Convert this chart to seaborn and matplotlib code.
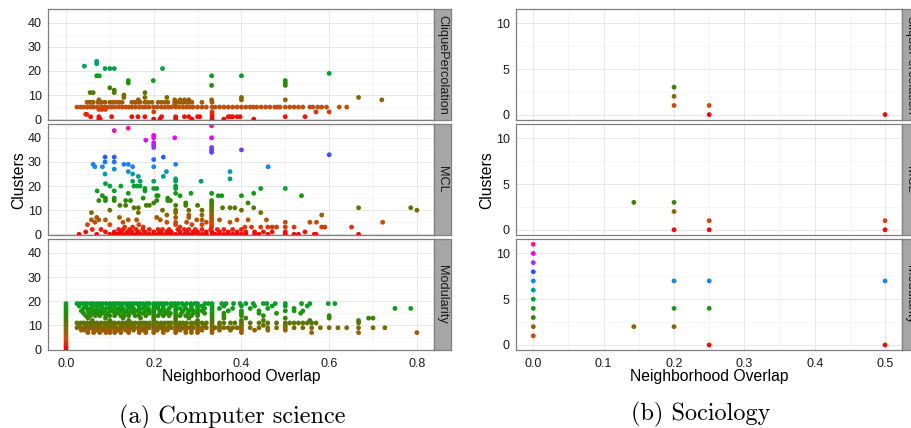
import pandas as pd
import matplotlib
matplotlib.use("Agg")
import matplotlib.pyplot as plt
from matplotlib.colors import LinearSegmentedColormap
from matplotlib.ticker import FixedLocator
import seaborn as sns

FACETS = ["CliquePercolation", "MCL", "Modularity"]

# (a) Computer science -- each entry: (clusters, [neighborhood overlap values])
CS_CLIQUE = [
    (24, [0.07]), (23, [0.07]), (22, [0.042]),
    (21, [0.089, 0.10, 0.11, 0.22]), (19, [0.60]),
    (18, [0.07, 0.076, 0.332, 0.40]), (16, [0.142, 0.199, 0.50]),
    (15, [0.142, 0.50]), (14, [0.332, 0.50]), (13, [0.10]), (12, [0.11]),
    (11, [0.055, 0.062, 0.11, 0.18]), (10, [0.132]),
    (9, [0.132, 0.18, 0.23, 0.40, 0.667]),
    (8, [0.075, 0.165, 0.248, 0.26, 0.27, 0.28, 0.332, 0.40, 0.50, 0.72]),
    (7, [0.048, 0.053, 0.058, 0.062, 0.073, 0.078, 0.082, 0.089, 0.10, 0.107, 0.115,
         0.122, 0.128, 0.15, 0.157, 0.163, 0.169, 0.18, 0.187, 0.196, 0.21, 0.218,
         0.226, 0.232, 0.248, 0.255, 0.262, 0.268, 0.275, 0.28, 0.287, 0.31, 0.333]),
    (6, [0.248]),
    (5, [0.025, 0.033, 0.04, 0.048, 0.056, 0.063, 0.071, 0.08, 0.088, 0.095, 0.103,
         0.111, 0.12, 0.128, 0.136, 0.143, 0.15, 0.158, 0.167, 0.175, 0.182, 0.19,
         0.2, 0.208, 0.217, 0.225, 0.233, 0.24, 0.25, 0.258, 0.267, 0.275, 0.283,
         0.29, 0.3, 0.31, 0.32, 0.333, 0.34, 0.35, 0.36, 0.37, 0.38, 0.39, 0.4,
         0.41, 0.42, 0.427, 0.435, 0.445, 0.455, 0.465, 0.476, 0.482, 0.488, 0.5,
         0.51, 0.52, 0.53, 0.54, 0.556, 0.563, 0.574, 0.583, 0.594, 0.623, 0.64]),
    (4, [0.075, 0.082, 0.09]),
    (3, [0.20, 0.333, 0.57, 0.60]),
    (2, [0.045, 0.047, 0.333]),
    (1, [0.056, 0.075, 0.104, 0.15, 0.164, 0.18, 0.218, 0.25, 0.27, 0.28, 0.30,
         0.305, 0.333, 0.37, 0.375, 0.38, 0.39, 0.397, 0.50, 0.545]),
    (0, [0.075, 0.078, 0.20, 0.214, 0.25, 0.287, 0.333, 0.36, 0.428]),
]

CS_MCL = [
    (45, [0.332]), (44, [0.142]), (43, [0.110]), (41, [0.20]),
    (40, [0.20, 0.248, 0.332]), (39, [0.182]), (38, [0.20]), (37, [0.20]),
    (36, [0.20, 0.332]), (35, [0.332, 0.40]), (34, [0.332]), (33, [0.60]),
    (32, [0.089, 0.11, 0.222]), (31, [0.20]), (30, [0.089, 0.11]),
    (29, [0.062, 0.132, 0.142, 0.25]), (28, [0.066, 0.083, 0.152, 0.20, 0.461]),
    (27, [0.11]), (26, [0.142, 0.229, 0.374]), (25, [0.089, 0.152]),
    (24, [0.165, 0.222]), (23, [0.25, 0.374]),
    (22, [0.152, 0.169, 0.20, 0.25, 0.308]), (21, [0.09]),
    (20, [0.10, 0.125, 0.155, 0.162, 0.169, 0.25]),
    (19, [0.18, 0.20, 0.207, 0.25, 0.444, 0.50]),
    (18, [0.071, 0.11, 0.18]),
    (17, [0.142, 0.25, 0.285, 0.332, 0.428]),
    (16, [0.083, 0.207, 0.21, 0.26, 0.347, 0.355, 0.40, 0.537]),
    (15, [0.09, 0.11, 0.176, 0.232]),
    (14, [0.075, 0.09, 0.11, 0.136, 0.147, 0.207, 0.232, 0.238, 0.332]),
    (13, [0.20, 0.273, 0.332, 0.415]),
    (12, [0.123, 0.136, 0.183, 0.19, 0.25, 0.273, 0.30, 0.332]),
    (11, [0.155, 0.165, 0.332, 0.357, 0.374, 0.385, 0.428, 0.667, 0.786]),
    (10, [0.10, 0.22, 0.25, 0.28, 0.31, 0.332, 0.40, 0.80]),
    (9, [0.058, 0.165, 0.25, 0.332, 0.444]),
    (8, [0.23, 0.28, 0.31, 0.332, 0.583]),
    (7, [0.07, 0.122, 0.207, 0.25, 0.28, 0.332]),
    (6, [0.058, 0.075, 0.09, 0.142, 0.161, 0.215, 0.298, 0.31, 0.332, 0.35, 0.39,
         0.415, 0.457]),
    (5, [0.066, 0.13, 0.23, 0.25, 0.275, 0.32, 0.332, 0.374, 0.50, 0.556, 0.571, 0.722]),
    (4, [0.049, 0.10, 0.166, 0.25, 0.287, 0.31, 0.332]),
    (3, [0.134, 0.152, 0.176, 0.26, 0.332, 0.408, 0.423, 0.444, 0.46, 0.47, 0.48,
         0.50, 0.52, 0.583, 0.59, 0.651]),
    (2, [0.06, 0.08, 0.12, 0.13, 0.145, 0.16, 0.175, 0.19, 0.21, 0.22, 0.235, 0.255,
         0.27, 0.28, 0.295, 0.31, 0.33, 0.345, 0.36, 0.38, 0.40]),
    (1, [0.045, 0.09, 0.11, 0.125, 0.14, 0.15, 0.165, 0.18, 0.2, 0.215, 0.23, 0.24,
         0.26, 0.275, 0.29, 0.30, 0.32, 0.333, 0.35, 0.37, 0.39, 0.41, 0.43, 0.45,
         0.47, 0.50, 0.545]),
    (0, [0.03, 0.07, 0.1, 0.11, 0.115, 0.12, 0.13, 0.14, 0.15, 0.16, 0.17, 0.18,
         0.19, 0.2, 0.21, 0.22, 0.23, 0.24, 0.25, 0.26, 0.27, 0.28, 0.29, 0.30, 0.31,
         0.32, 0.333, 0.34, 0.35, 0.36, 0.37, 0.38, 0.39, 0.40, 0.41, 0.43, 0.44,
         0.46, 0.5, 0.52, 0.53, 0.566, 0.57, 0.667]),
]

CS_MODULARITY = [
    (19, [0.0, 0.025, 0.032, 0.04, 0.047, 0.055, 0.062, 0.07, 0.078, 0.085, 0.092,
          0.1, 0.108, 0.115, 0.122, 0.13, 0.138, 0.145, 0.153, 0.16, 0.168, 0.176,
          0.184, 0.19, 0.2, 0.208, 0.215, 0.222, 0.23, 0.24, 0.248, 0.256, 0.265,
          0.275, 0.285, 0.294, 0.30, 0.317, 0.325, 0.333, 0.355, 0.365, 0.382, 0.397,
          0.41, 0.427, 0.45, 0.458, 0.477, 0.5, 0.537, 0.556, 0.598, 0.613]),
    (18, [0.0, 0.03, 0.045, 0.06, 0.07, 0.08, 0.1, 0.11, 0.125, 0.14, 0.15, 0.167,
          0.18, 0.2, 0.21, 0.222, 0.24, 0.25, 0.27, 0.286, 0.3, 0.31, 0.333, 0.36,
          0.4, 0.43, 0.47, 0.5, 0.55]),
    (17, [0.0, 0.04, 0.05, 0.06, 0.071, 0.083, 0.091, 0.1, 0.111, 0.12, 0.13, 0.143,
          0.154, 0.167, 0.176, 0.188, 0.2, 0.21, 0.222, 0.235, 0.25, 0.26, 0.273,
          0.286, 0.3, 0.316, 0.333, 0.35, 0.38, 0.42, 0.46, 0.52, 0.75, 0.786]),
    (16, [0.0, 0.035, 0.05, 0.058, 0.067, 0.077, 0.087, 0.1, 0.105, 0.118, 0.125,
          0.136, 0.15, 0.158, 0.167, 0.182, 0.19, 0.2, 0.214, 0.222, 0.231, 0.25,
          0.267, 0.28, 0.29, 0.3, 0.31, 0.333, 0.37, 0.4, 0.44, 0.5, 0.52, 0.54]),
    (15, [0.0, 0.04, 0.053, 0.063, 0.071, 0.083, 0.095, 0.111, 0.12, 0.133, 0.143,
          0.154, 0.167, 0.176, 0.19, 0.2, 0.214, 0.227, 0.238, 0.25, 0.263, 0.278,
          0.29, 0.3, 0.316, 0.333, 0.36, 0.4, 0.44, 0.48, 0.535]),
    (14, [0.0, 0.045, 0.056, 0.067, 0.077, 0.091, 0.1, 0.111, 0.125, 0.133, 0.143,
          0.158, 0.167, 0.182, 0.2, 0.21, 0.222, 0.235, 0.25, 0.26, 0.273, 0.286,
          0.3, 0.333, 0.36, 0.4, 0.45, 0.6]),
    (13, [0.0, 0.05, 0.09, 0.13, 0.17, 0.2, 0.25, 0.28, 0.333, 0.36, 0.41, 0.5, 0.6,
          0.69, 0.70]),
    (12, [0.0, 0.06, 0.1, 0.143, 0.2, 0.25, 0.3, 0.333, 0.4, 0.45, 0.556, 0.667]),
    (11, [0.0, 0.025, 0.033, 0.04, 0.048, 0.056, 0.063, 0.071, 0.08, 0.088, 0.095,
          0.105, 0.111, 0.12, 0.128, 0.136, 0.143, 0.15, 0.158, 0.167, 0.175, 0.182,
          0.19, 0.2, 0.208, 0.217, 0.225, 0.233, 0.24, 0.25, 0.26, 0.267, 0.275,
          0.286, 0.294, 0.3, 0.31, 0.32, 0.333, 0.35, 0.36, 0.375, 0.385, 0.4, 0.42,
          0.44, 0.46, 0.48, 0.5, 0.51, 0.52, 0.53, 0.54, 0.55, 0.56, 0.57, 0.667]),
    (10, [0.0, 0.03, 0.045, 0.056, 0.067, 0.077, 0.09, 0.1, 0.111, 0.125, 0.136,
          0.143, 0.154, 0.167, 0.18, 0.19, 0.2, 0.214, 0.222, 0.235, 0.25, 0.26,
          0.273, 0.286, 0.3, 0.316, 0.333, 0.35, 0.4, 0.45, 0.5]),
    (9, [0.0, 0.025, 0.033, 0.04, 0.05, 0.058, 0.067, 0.075, 0.083, 0.09, 0.1, 0.107,
         0.115, 0.125, 0.133, 0.14, 0.15, 0.158, 0.167, 0.175, 0.182, 0.19, 0.2,
         0.208, 0.216, 0.225, 0.233, 0.24, 0.25, 0.258, 0.267, 0.275, 0.283, 0.29,
         0.3, 0.31, 0.32, 0.333, 0.34, 0.35, 0.36, 0.37, 0.38, 0.39, 0.4, 0.42, 0.44,
         0.46, 0.48, 0.5, 0.52, 0.54, 0.56, 0.58, 0.6, 0.62, 0.64, 0.667, 0.7, 0.727]),
    (8, [0.0, 0.035, 0.043, 0.05, 0.063, 0.071, 0.083, 0.091, 0.1, 0.111, 0.118,
         0.125, 0.136, 0.143, 0.154, 0.167, 0.176, 0.182, 0.2, 0.208, 0.222, 0.231,
         0.25, 0.26, 0.273, 0.286, 0.3, 0.31, 0.333, 0.35, 0.375, 0.4, 0.43, 0.46, 0.5]),
    (7, [0.0, 0.05, 0.063, 0.077, 0.091, 0.1, 0.111, 0.125, 0.143, 0.167, 0.182, 0.2,
         0.222, 0.25, 0.273, 0.286, 0.3, 0.333, 0.4, 0.56, 0.667, 0.8]),
    (6, [0.0]), (5, [0.0]), (4, [0.0]), (3, [0.0]), (2, [0.0]), (1, [0.0]), (0, [0.0]),
]

# (b) Sociology
SOC_CLIQUE_X = [0.2, 0.2, 0.2, 0.25, 0.25, 0.5]
SOC_CLIQUE_Y = [3, 2, 1, 1, 0, 0]
SOC_MCL_X = [1 / 7, 0.2, 0.2, 0.2, 0.25, 0.25, 0.5, 0.5]
SOC_MCL_Y = [3, 3, 2, 0, 1, 0, 1, 0]
SOC_MOD_X = [0, 0, 0, 0, 0, 0, 0, 0, 0, 0, 0, 1 / 7, 0.2, 0.2, 0.2, 0.25, 0.25, 0.25, 0.5, 0.5]
SOC_MOD_Y = [1, 2, 3, 4, 5, 6, 7, 8, 9, 10, 11, 2, 7, 4, 2, 7, 4, 0, 7, 0]

# colour ramp (red -> brown -> green -> teal -> blue -> purple -> pink)
HUE_COLOURS = ["#FF0000", "#D2480C", "#8C6400", "#3F7F00", "#139A0F", "#00A23A",
               "#009E96", "#1E82FF", "#2B55FF", "#A030FF", "#F000E8", "#FF1A8C"]
CMAP = LinearSegmentedColormap.from_list("ramp", HUE_COLOURS)


def rows_to_frame(rows):
    recs = [(x, y) for y, xs in rows for x in xs]
    return pd.DataFrame(recs, columns=["overlap", "clusters"])


W, H = 912, 428
ROWS_PX = [(9.3, 119.6), (124.3, 234.8), (239.3, 350.0)]


def box(x0, x1, y0, y1):
    return [x0 / W, 1 - y1 / H, (x1 - x0) / W, (y1 - y0) / H]


def style(ax, xlim, ylim, xmaj, xmin, ymaj, ymin, bottom):
    ax.set_xlim(*xlim)
    ax.set_ylim(*ylim)
    ax.xaxis.set_major_locator(FixedLocator(xmaj))
    ax.xaxis.set_minor_locator(FixedLocator(xmin))
    ax.yaxis.set_major_locator(FixedLocator(ymaj))
    ax.yaxis.set_minor_locator(FixedLocator(ymin))
    ax.set_axisbelow(True)
    ax.grid(which="major", color="#E3E3E3", lw=0.6)
    ax.grid(which="minor", color="#F1F1F1", lw=0.5)
    ax.tick_params(which="minor", length=0)
    ax.tick_params(which="major", length=2.5, width=0.6, color="#555555",
                   labelsize=9, labelcolor="#1A1A1A", pad=2)
    ax.tick_params(axis="x", pad=3)
    if not bottom:
        ax.tick_params(axis="x", which="both", bottom=False, labelbottom=False)
    else:
        ax.set_xticklabels([f"{v:.1f}" for v in xmaj])
    for s in ax.spines.values():
        s.set_color("#7F7F7F")
        s.set_linewidth(0.9)
    ax.set_xlabel("")
    ax.set_ylabel("")


def strip(fig, x0, x1, y0, y1, label):
    sax = fig.add_axes(box(x0, x1, y0, y1))
    sax.set_facecolor("#A6A6A6")
    sax.set_xticks([])
    sax.set_yticks([])
    for s in sax.spines.values():
        s.set_color("#7F7F7F")
        s.set_linewidth(0.9)
    sax.text(0.5, 0.5, label, rotation=-90, ha="center", va="center",
             fontsize=9.2, color="#1A1A1A", transform=sax.transAxes)


sns.set_style("white")
plt.rcParams["font.family"] = ["Liberation Sans", "DejaVu Sans"]

fig = plt.figure(figsize=(W / 100, H / 100), dpi=100)

cs_frames = [rows_to_frame(CS_CLIQUE), rows_to_frame(CS_MCL), rows_to_frame(CS_MODULARITY)]
soc_frames = [
    pd.DataFrame({"overlap": SOC_CLIQUE_X, "clusters": SOC_CLIQUE_Y}),
    pd.DataFrame({"overlap": SOC_MCL_X, "clusters": SOC_MCL_Y}),
    pd.DataFrame({"overlap": SOC_MOD_X, "clusters": SOC_MOD_Y}),
]

panels = [
    dict(frames=cs_frames, x0=48, x1=434, vmax=45, xlim=(-0.041, 0.839), ylim=(-0.2, 45.6),
         xmaj=[0, 0.2, 0.4, 0.6, 0.8], xmin=[0.1, 0.3, 0.5, 0.7],
         ymaj=[0, 10, 20, 30, 40], ymin=[5, 15, 25, 35, 45], ylab_x=18.5,
         caption="(a) Computer science", cap_x=232, cap_y=423),
    dict(frames=soc_frames, x0=516, x1=902, vmax=11, xlim=(-0.0246, 0.524), ylim=(-0.55, 11.55),
         xmaj=[0, 0.1, 0.2, 0.3, 0.4, 0.5], xmin=[0.05, 0.15, 0.25, 0.35, 0.45],
         ymaj=[0, 5, 10], ymin=[2.5, 7.5], ylab_x=487,
         caption="(b) Sociology", cap_x=701, cap_y=420),
]

for p in panels:
    for i, (df, name) in enumerate(zip(p["frames"], FACETS)):
        y0, y1 = ROWS_PX[i]
        ax = fig.add_axes(box(p["x0"], p["x1"], y0, y1))
        sns.scatterplot(data=df, x="overlap", y="clusters", hue="clusters",
                        palette=CMAP, hue_norm=(0, p["vmax"]), s=12, linewidth=0,
                        legend=False, ax=ax)
        style(ax, p["xlim"], p["ylim"], p["xmaj"], p["xmin"], p["ymaj"], p["ymin"], i == 2)
        strip(fig, p["x1"], p["x1"] + 17, y0, y1, name)

    fig.text(p["ylab_x"] / W, 1 - 180 / H, "Clusters", rotation=90, ha="center",
             va="center", fontsize=11.3, color="#000000")
    fig.text((p["x0"] + p["x1"]) / 2 / W, 1 - 380.5 / H, "Neighborhood Overlap",
             ha="center", va="baseline", fontsize=11.3, color="#000000")
    fig.text(p["cap_x"] / W, 1 - p["cap_y"] / H, p["caption"], ha="center",
             va="baseline", fontsize=17.5, family="cmr10", color="#000000")

fig.savefig("out.png", dpi=100)
